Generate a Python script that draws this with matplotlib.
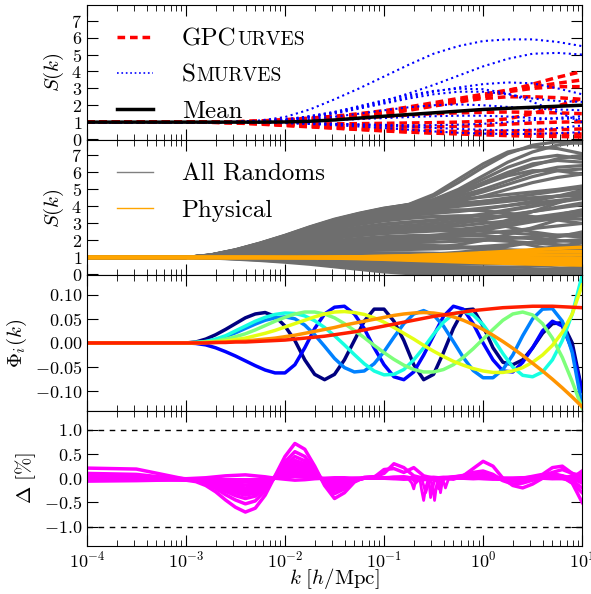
"""Four stacked panels: S(k) curves, random/physical draws, basis functions, residuals."""
import matplotlib

matplotlib.use("Agg")
import matplotlib.pyplot as plt  # noqa: E402
import numpy as np  # noqa: E402

plt.rcParams["font.family"] = "serif"
plt.rcParams["font.serif"] = ["cmr10"]
plt.rcParams["mathtext.fontset"] = "cm"
plt.rcParams["axes.formatter.use_mathtext"] = True

# ---------------------------------------------------------------- data
# log10(k) nodes used by the two S(k) panels
LOGK_A = [-4.0, -3.0, -2.75, -2.5, -2.25, -2.0, -1.75, -1.5, -1.25, -1.0,
          -0.75, -0.5, -0.25, 0.0, 0.25, 0.5, 0.75, 1.0]

GP_CURVES = [
    [1, 1, 1.0, 1.01, 1.04, 1.1, 1.18, 1.28, 1.4, 1.55, 1.75, 1.97, 2.2, 2.5, 2.85, 3.25, 3.65, 4.0],
    [1, 1, 1.0, 1.02, 1.07, 1.15, 1.24, 1.35, 1.5, 1.68, 1.9, 2.15, 2.4, 2.65, 2.9, 3.1, 3.3, 3.5],
    [1, 1, 1.0, 1.02, 1.06, 1.12, 1.2, 1.3, 1.42, 1.6, 1.8, 2.05, 2.3, 2.55, 2.8, 3.0, 3.1, 3.1],
    [1, 1, 1.0, 1.01, 1.04, 1.09, 1.15, 1.22, 1.32, 1.48, 1.7, 1.95, 2.2, 2.4, 2.5, 2.5, 2.45, 2.35],
    [1, 1, 1.0, 1.02, 1.05, 1.1, 1.14, 1.18, 1.24, 1.33, 1.42, 1.5, 1.55, 1.58, 1.6, 1.58, 1.55, 1.5],
    [1, 1, 1.0, 0.98, 0.95, 0.92, 0.9, 0.9, 0.91, 0.93, 0.95, 0.97, 1.0, 1.05, 1.2, 1.5, 1.95, 2.4],
    [1, 1, 1.0, 0.98, 0.95, 0.9, 0.85, 0.8, 0.77, 0.74, 0.72, 0.72, 0.75, 0.8, 0.88, 0.95, 1.0, 1.02],
    [1, 1, 1.0, 0.97, 0.92, 0.85, 0.78, 0.71, 0.65, 0.59, 0.53, 0.48, 0.45, 0.45, 0.47, 0.5, 0.55, 0.6],
    [1, 1, 0.99, 0.96, 0.9, 0.82, 0.74, 0.66, 0.58, 0.5, 0.42, 0.36, 0.33, 0.32, 0.31, 0.3, 0.3, 0.3],
    [1, 1, 0.99, 0.95, 0.88, 0.8, 0.72, 0.64, 0.56, 0.48, 0.41, 0.35, 0.3, 0.25, 0.2, 0.17, 0.15, 0.12],
]

SMURVES = [
    [1, 1, 1.0, 1.02, 1.1, 1.3, 1.75, 2.35, 3.0, 3.7, 4.4, 5.05, 5.5, 5.8, 5.9, 5.9, 5.75, 5.5],
    [1, 1, 1.0, 1.01, 1.05, 1.15, 1.35, 1.6, 1.9, 2.25, 2.7, 3.2, 3.75, 4.3, 4.75, 5.05, 5.1, 5.0],
    [1, 1, 1.0, 1.01, 1.04, 1.12, 1.3, 1.55, 1.85, 2.15, 2.5, 2.8, 3.05, 3.25, 3.35, 3.3, 3.0, 2.65],
    [1, 1, 1.0, 1.01, 1.05, 1.15, 1.35, 1.6, 1.95, 2.3, 2.6, 2.85, 2.98, 2.95, 2.7, 2.2, 1.6, 1.0],
    [1, 1, 1.0, 1.01, 1.04, 1.12, 1.28, 1.5, 1.8, 2.1, 2.4, 2.65, 2.8, 2.8, 2.65, 2.4, 2.25, 2.2],
    [1, 1, 1.0, 1.01, 1.03, 1.08, 1.18, 1.32, 1.5, 1.7, 1.88, 2.0, 2.05, 2.0, 1.9, 1.8, 1.75, 1.7],
    [1, 1, 1.0, 1.0, 1.01, 1.03, 1.07, 1.12, 1.18, 1.24, 1.3, 1.35, 1.38, 1.38, 1.33, 1.25, 1.2, 1.2],
    [1, 1, 1.0, 0.99, 0.98, 0.96, 0.93, 0.89, 0.84, 0.78, 0.72, 0.66, 0.6, 0.55, 0.52, 0.55, 0.65, 0.8],
    [1, 1, 1.0, 0.99, 0.97, 0.94, 0.89, 0.82, 0.74, 0.65, 0.55, 0.45, 0.37, 0.32, 0.3, 0.3, 0.35, 0.4],
    [1, 1, 1.0, 0.99, 0.98, 0.96, 0.93, 0.9, 0.87, 0.84, 0.82, 0.82, 0.85, 0.9, 1.0, 1.12, 1.25, 1.35],
]

MEAN = [1, 1, 1.0, 1.0, 1.0, 1.01, 1.05, 1.13, 1.24, 1.35, 1.45, 1.55, 1.65, 1.75, 1.82, 1.88, 1.94, 2.0]

ALL_RANDOMS = [
    [1, 1, 1.15, 1.45, 1.85, 2.3, 2.8, 3.25, 3.6, 3.9, 4.1, 4.25, 4.4, 4.55, 4.7, 4.85, 5.0, 5.2],
    [1, 1, 1.14, 1.42, 1.8, 2.22, 2.7, 3.12, 3.47, 3.75, 3.95, 4.1, 4.2, 4.3, 4.4, 4.5, 4.6, 4.7],
    [1, 1, 1.13, 1.4, 1.75, 2.14, 2.58, 2.97, 3.27, 3.53, 3.7, 3.85, 4.0, 4.15, 4.3, 4.45, 4.6, 4.8],
    [1, 1, 1.12, 1.37, 1.7, 2.06, 2.47, 2.83, 3.1, 3.34, 3.5, 3.6, 3.7, 3.85, 4.05, 4.3, 4.6, 4.95],
    [1, 1, 1.11, 1.34, 1.64, 1.98, 2.36, 2.69, 2.94, 3.15, 3.29, 3.4, 3.45, 3.45, 3.4, 3.35, 3.3, 3.25],
    [1, 1, 1.1, 1.31, 1.59, 1.9, 2.25, 2.55, 2.78, 2.97, 3.09, 3.2, 3.35, 3.55, 3.8, 4.05, 4.3, 4.5],
    [1, 1, 1.1, 1.29, 1.54, 1.83, 2.14, 2.41, 2.61, 2.78, 2.89, 3.0, 3.15, 3.3, 3.5, 3.7, 3.9, 4.1],
    [1, 1, 1.09, 1.26, 1.49, 1.75, 2.03, 2.27, 2.45, 2.59, 2.68, 2.7, 2.65, 2.55, 2.45, 2.35, 2.3, 2.3],
    [1, 1, 1.08, 1.23, 1.44, 1.67, 1.92, 2.13, 2.28, 2.4, 2.48, 2.55, 2.65, 2.8, 3.0, 3.2, 3.4, 3.55],
    [1, 1, 1.07, 1.21, 1.39, 1.59, 1.81, 1.99, 2.12, 2.22, 2.28, 2.3, 2.3, 2.25, 2.2, 2.1, 2.0, 1.9],
    [1, 1, 1.06, 1.18, 1.34, 1.51, 1.7, 1.85, 1.95, 2.03, 2.08, 2.15, 2.25, 2.4, 2.55, 2.7, 2.85, 3.0],
    [1, 1, 1.05, 1.15, 1.28, 1.43, 1.59, 1.71, 1.79, 1.84, 1.87, 1.9, 1.95, 2.0, 2.1, 2.2, 2.3, 2.4],
    [1, 1, 1.04, 1.12, 1.23, 1.35, 1.48, 1.57, 1.62, 1.65, 1.67, 1.65, 1.6, 1.5, 1.4, 1.3, 1.2, 1.1],
    [1, 1, 1.03, 1.09, 1.18, 1.27, 1.37, 1.43, 1.46, 1.47, 1.47, 1.5, 1.55, 1.65, 1.75, 1.85, 1.95, 2.05],
    [1, 1, 1.02, 1.07, 1.13, 1.19, 1.26, 1.29, 1.29, 1.28, 1.27, 1.25, 1.2, 1.15, 1.1, 1.05, 1.0, 0.95],
    [1, 1, 1.01, 1.04, 1.08, 1.12, 1.15, 1.15, 1.13, 1.09, 1.06, 1.05, 1.08, 1.12, 1.2, 1.3, 1.4, 1.5],
    [1, 1, 1.0, 1.01, 1.03, 1.04, 1.04, 1.01, 0.96, 0.9, 0.86, 0.85, 0.8, 0.75, 0.7, 0.65, 0.6, 0.55],
    [1, 1, 0.99, 0.98, 0.97, 0.96, 0.93, 0.87, 0.79, 0.71, 0.66, 0.62, 0.6, 0.6, 0.62, 0.66, 0.7, 0.75],
    [1, 1, 0.99, 0.96, 0.92, 0.88, 0.82, 0.73, 0.63, 0.53, 0.46, 0.4, 0.35, 0.3, 0.28, 0.25, 0.25, 0.25],
    [1, 1, 0.98, 0.93, 0.87, 0.8, 0.71, 0.59, 0.46, 0.34, 0.25, 0.2, 0.18, 0.2, 0.25, 0.3, 0.35, 0.4],
    [1, 1, 0.97, 0.9, 0.82, 0.72, 0.6, 0.45, 0.3, 0.15, 0.05, 0.0, -0.05, -0.1, -0.1, -0.1, -0.1, -0.1],
    [1, 1, 1.05, 1.16, 1.3, 1.47, 1.64, 1.78, 1.87, 1.93, 1.97, 2.05, 2.3, 2.7, 3.2, 3.7, 4.2, 4.6],
    [1, 1, 1.08, 1.24, 1.45, 1.7, 1.96, 2.18, 2.35, 2.5, 2.6, 2.6, 2.5, 2.3, 2.0, 1.7, 1.4, 1.2],
    [1, 1, 1.11, 1.35, 1.65, 2.0, 2.38, 2.72, 2.98, 3.2, 3.35, 3.4, 3.3, 3.1, 2.8, 2.5, 2.3, 2.2],
    [1, 1, 1.03, 1.1, 1.2, 1.31, 1.42, 1.5, 1.54, 1.56, 1.57, 1.6, 1.75, 2.0, 2.35, 2.75, 3.2, 3.7],
    [1, 1, 1.12, 1.38, 1.72, 2.1, 2.52, 2.9, 3.2, 3.45, 3.62, 3.75, 3.8, 3.75, 3.6, 3.4, 3.2, 3.0],
    [1, 1, 1.0, 1.02, 1.04, 1.06, 1.07, 1.06, 1.03, 0.99, 0.96, 0.95, 1.0, 1.1, 1.25, 1.45, 1.65, 1.85],
    [1, 1, 0.99, 0.97, 0.95, 0.93, 0.88, 0.8, 0.71, 0.62, 0.56, 0.55, 0.6, 0.7, 0.85, 1.0, 1.15, 1.3],
    [1, 1, 1.09, 1.27, 1.5, 1.77, 2.05, 2.3, 2.5, 2.65, 2.75, 2.85, 3.0, 3.2, 3.45, 3.7, 3.95, 4.2],
    [1, 1, 1.13, 1.4, 1.76, 2.16, 2.6, 3.0, 3.3, 3.56, 3.75, 3.9, 4.05, 4.2, 4.35, 4.5, 4.6, 4.65],
    [1, 1, 1.06, 1.19, 1.36, 1.55, 1.75, 1.92, 2.04, 2.13, 2.19, 2.25, 2.4, 2.6, 2.85, 3.1, 3.3, 3.45],
    [1, 1, 1.02, 1.06, 1.11, 1.17, 1.22, 1.24, 1.23, 1.2, 1.15, 1.1, 1.0, 0.9, 0.8, 0.7, 0.6, 0.5],
    [1, 1, 0.98, 0.94, 0.89, 0.83, 0.76, 0.67, 0.57, 0.47, 0.38, 0.3, 0.25, 0.22, 0.2, 0.2, 0.2, 0.2],
    [1, 1, 1.0, 0.99, 0.98, 0.97, 0.95, 0.91, 0.85, 0.79, 0.73, 0.7, 0.7, 0.75, 0.85, 1.0, 1.2, 1.4],
    [1, 1, 1.07, 1.2, 1.37, 1.56, 1.76, 1.93, 2.05, 2.14, 2.2, 2.3, 2.45, 2.65, 2.9, 3.2, 3.5, 3.8],
    [1, 1, 1.1, 1.3, 1.57, 1.88, 2.22, 2.52, 2.75, 2.93, 3.05, 3.15, 3.3, 3.5, 3.75, 4.0, 4.25, 4.45],
    [1, 1, 1.04, 1.13, 1.25, 1.38, 1.51, 1.61, 1.67, 1.7, 1.72, 1.7, 1.65, 1.55, 1.45, 1.4, 1.4, 1.45],
    [1, 1, 0.99, 0.97, 0.93, 0.89, 0.84, 0.77, 0.69, 0.6, 0.52, 0.46, 0.42, 0.4, 0.42, 0.48, 0.55, 0.65],
    [1, 1, 1.01, 1.03, 1.06, 1.09, 1.11, 1.11, 1.09, 1.06, 1.03, 1.0, 0.95, 0.9, 0.85, 0.85, 0.9, 0.95],
    [1, 1, 1.09, 1.25, 1.47, 1.72, 1.99, 2.23, 2.41, 2.56, 2.66, 2.75, 2.85, 3.0, 3.15, 3.35, 3.55, 3.75],
    [1, 1, 1.12, 1.37, 1.69, 2.05, 2.45, 2.81, 3.08, 3.31, 3.47, 3.6, 3.75, 3.9, 4.05, 4.2, 4.35, 4.5],
    [1, 1, 1.05, 1.16, 1.31, 1.48, 1.66, 1.81, 1.92, 2.0, 2.05, 2.1, 2.1, 2.05, 1.95, 1.85, 1.75, 1.65],
    [1, 1, 1.02, 1.05, 1.09, 1.14, 1.19, 1.21, 1.2, 1.18, 1.17, 1.2, 1.3, 1.45, 1.65, 1.9, 2.2, 2.5],
    [1, 1, 0.98, 0.92, 0.85, 0.77, 0.67, 0.55, 0.42, 0.3, 0.2, 0.12, 0.08, 0.05, 0.05, 0.05, 0.05, 0.05],
    [1, 1, 1.13, 1.41, 1.77, 2.18, 2.62, 3.03, 3.35, 3.62, 3.8, 3.95, 4.1, 4.3, 4.5, 4.7, 4.9, 5.1],
    [1, 1, 1.14, 1.43, 1.82, 2.26, 2.75, 3.2, 3.55, 3.85, 4.1, 4.6, 5.4, 6.3, 7.1, 7.6, 7.8, 7.7],
    [1, 1, 1.13, 1.41, 1.78, 2.2, 2.68, 3.12, 3.48, 3.8, 4.05, 4.4, 5.0, 5.8, 6.6, 7.2, 7.6, 7.8],
    [1, 1, 1.15, 1.45, 1.84, 2.29, 2.78, 3.22, 3.58, 3.88, 4.12, 4.7, 5.6, 6.5, 7.2, 7.5, 7.4, 7.1],
    [1, 1, 1.12, 1.39, 1.74, 2.15, 2.6, 3.03, 3.38, 3.7, 3.95, 4.25, 4.7, 5.3, 5.9, 6.4, 6.8, 7.0],
    [1, 1, 1.14, 1.44, 1.83, 2.27, 2.76, 3.2, 3.56, 3.86, 4.08, 4.35, 4.8, 5.4, 6.0, 6.5, 6.7, 6.6],
    [1, 1, 1.13, 1.42, 1.8, 2.23, 2.72, 3.16, 3.52, 3.83, 4.05, 4.3, 4.6, 5.0, 5.5, 6.0, 6.3, 6.4],
    [1, 1, 1.12, 1.38, 1.72, 2.12, 2.56, 2.98, 3.33, 3.65, 3.9, 4.15, 4.45, 4.85, 5.3, 5.75, 6.1, 6.2],
    [1, 1, 1.14, 1.43, 1.81, 2.25, 2.74, 3.18, 3.54, 3.84, 4.06, 4.4, 4.9, 5.6, 6.3, 6.8, 7.0, 6.8],
    [1, 1, 1.11, 1.36, 1.69, 2.08, 2.5, 2.92, 3.27, 3.6, 3.85, 4.05, 4.3, 4.6, 5.0, 5.4, 5.7, 5.9],
    [1, 1, 1.13, 1.41, 1.79, 2.21, 2.69, 3.13, 3.49, 3.81, 4.03, 4.3, 4.75, 5.3, 5.8, 6.1, 6.1, 5.9],
]

PHYSICAL = [
    [1, 1, 1.0, 1.0, 1.0, 1.0, 1.01, 1.02, 1.04, 1.06, 1.1, 1.15, 1.2, 1.28, 1.36, 1.45, 1.53, 1.6],
    [1, 1, 1.0, 1.0, 1.0, 1.0, 1.01, 1.02, 1.04, 1.07, 1.1, 1.14, 1.18, 1.22, 1.26, 1.3, 1.33, 1.35],
    [1, 1, 1.0, 1.0, 1.0, 1.0, 1.0, 1.01, 1.02, 1.03, 1.05, 1.07, 1.09, 1.1, 1.12, 1.13, 1.14, 1.15],
    [1, 1, 1.0, 1.0, 1.0, 1.0, 1.0, 1.0, 0.99, 0.99, 0.98, 0.98, 0.97, 0.97, 0.96, 0.96, 0.95, 0.95],
    [1, 1, 1.0, 1.0, 1.0, 1.0, 0.99, 0.98, 0.97, 0.95, 0.93, 0.91, 0.89, 0.87, 0.85, 0.83, 0.81, 0.8],
    [1, 1, 1.0, 1.0, 1.0, 0.99, 0.98, 0.97, 0.95, 0.92, 0.88, 0.84, 0.8, 0.76, 0.73, 0.7, 0.67, 0.65],
    [1, 1, 1.0, 1.0, 1.0, 0.99, 0.98, 0.96, 0.93, 0.89, 0.84, 0.79, 0.74, 0.69, 0.65, 0.61, 0.58, 0.55],
]

# log10(k) nodes used by the basis-function and residual panels
LOGK_B = [-4.0, -3.5,
          -3.0, -2.9, -2.8, -2.7, -2.6, -2.5, -2.4, -2.3, -2.2, -2.1,
          -2.0, -1.9, -1.8, -1.7, -1.6, -1.5, -1.4, -1.3, -1.2, -1.1,
          -1.0, -0.9, -0.8, -0.7, -0.6, -0.5, -0.4, -0.3, -0.2, -0.1,
          0.0, 0.1, 0.2, 0.3, 0.4, 0.5, 0.6, 0.7, 0.8, 0.9, 1.0]

# basis functions Phi_i, highest order first (drawn navy -> red)
PHI = [
    [0, 0,
     0, 0.002, 0.008, 0.017, 0.028, 0.04, 0.052, 0.06, 0.063, 0.055,
     0.035, 0.005, -0.035, -0.065, -0.076, -0.065, -0.035, 0.005, 0.045, 0.07,
     0.07, 0.045, 0.005, -0.045, -0.076, -0.065, -0.02, 0.03, 0.068, 0.07,
     0.035, -0.01, -0.04, -0.045, -0.035, -0.01, 0.02, 0.04, 0.042, 0.0, -0.1],
    [0, 0,
     0, -0.001, -0.004, -0.01, -0.018, -0.027, -0.037, -0.047, -0.056, -0.062,
     -0.062, -0.045, -0.01, 0.03, 0.06, 0.074, 0.076, 0.06, 0.03, -0.01,
     -0.045, -0.07, -0.076, -0.06, -0.025, 0.015, 0.055, 0.076, 0.07, 0.04,
     0.0, -0.035, -0.058, -0.06, -0.04, -0.01, 0.025, 0.045, 0.035, -0.015, -0.1],
    [0, 0,
     0, 0.001, 0.003, 0.007, 0.013, 0.021, 0.03, 0.039, 0.047, 0.052,
     0.054, 0.05, 0.037, 0.017, -0.007, -0.032, -0.051, -0.06, -0.058, -0.043,
     -0.018, 0.012, 0.04, 0.06, 0.067, 0.058, 0.035, 0.003, -0.03, -0.057,
     -0.072, -0.072, -0.055, -0.025, 0.015, 0.05, 0.07, 0.071, 0.045, -0.02, -0.13],
    [0, 0,
     0, 0.001, 0.003, 0.008, 0.015, 0.025, 0.035, 0.045, 0.053, 0.059,
     0.062, 0.061, 0.056, 0.046, 0.032, 0.015, -0.004, -0.024, -0.043, -0.058,
     -0.066, -0.065, -0.055, -0.035, -0.01, 0.018, 0.043, 0.06, 0.065, 0.058,
     0.038, 0.01, -0.022, -0.05, -0.067, -0.07, -0.06, -0.035, 0.005, 0.06, 0.14],
    [0, 0,
     0, 0.001, 0.002, 0.004, 0.008, 0.013, 0.019, 0.027, 0.036, 0.045,
     0.053, 0.06, 0.064, 0.064, 0.06, 0.052, 0.04, 0.026, 0.011, -0.005,
     -0.02, -0.034, -0.046, -0.055, -0.06, -0.06, -0.055, -0.045, -0.03, -0.012,
     0.008, 0.028, 0.047, 0.06, 0.064, 0.058, 0.04, 0.01, -0.03, -0.08, -0.135],
    [0, 0,
     0, 0, 0.001, 0.002, 0.004, 0.007, 0.01, 0.015, 0.02, 0.026,
     0.033, 0.04, 0.047, 0.054, 0.06, 0.064, 0.065, 0.063, 0.059, 0.052,
     0.043, 0.032, 0.02, 0.008, -0.005, -0.017, -0.028, -0.038, -0.046, -0.053,
     -0.058, -0.061, -0.061, -0.058, -0.051, -0.04, -0.025, -0.005, 0.022, 0.06, 0.12],
    [0, 0,
     0, 0, 0.001, 0.001, 0.002, 0.003, 0.004, 0.006, 0.008, 0.01,
     0.013, 0.016, 0.02, 0.024, 0.028, 0.032, 0.037, 0.041, 0.045, 0.049,
     0.053, 0.057, 0.06, 0.062, 0.063, 0.062, 0.059, 0.054, 0.047, 0.038,
     0.028, 0.016, 0.003, -0.011, -0.026, -0.042, -0.058, -0.075, -0.093, -0.112, -0.132],
    [0, 0,
     0, 0, 0, 0.001, 0.001, 0.002, 0.002, 0.003, 0.004, 0.005,
     0.006, 0.008, 0.01, 0.012, 0.014, 0.017, 0.02, 0.023, 0.027, 0.031,
     0.035, 0.039, 0.043, 0.047, 0.051, 0.055, 0.058, 0.061, 0.064, 0.067,
     0.069, 0.071, 0.073, 0.074, 0.075, 0.076, 0.076, 0.076, 0.075, 0.074, 0.073],
]

# residuals in per cent
DELTA = [
    [0.02, 0.01,
     -0.04, -0.07, -0.15, -0.28, -0.45, -0.6, -0.7, -0.62, -0.35, 0.05,
     0.45, 0.72, 0.6, 0.25, -0.15, -0.42, -0.3, -0.08, 0.02, 0.03,
     0.0, 0.02, 0.03, 0.0, -0.03, -0.02, 0.01, 0.03, 0.05, 0.08,
     0.1, 0.05, -0.03, -0.06, -0.04, 0.0, 0.03, 0.05, 0.02, -0.1, -0.3],
    [0.21, 0.19,
     -0.02, -0.05, -0.11, -0.21, -0.34, -0.45, -0.53, -0.47, -0.26, 0.04,
     0.34, 0.55, 0.45, 0.19, -0.11, -0.32, -0.22, -0.06, 0.01, 0.02,
     0.01, 0.0, -0.02, -0.01, 0.01, 0.02, 0.0, -0.02, 0.05, 0.2,
     0.35, 0.25, 0.0, -0.15, -0.2, -0.12, 0.0, 0.1, 0.05, -0.1, -0.5],
    [0.1, 0.08,
     -0.03, -0.05, -0.09, -0.17, -0.27, -0.36, -0.42, -0.37, -0.21, 0.03,
     0.27, 0.45, 0.36, 0.15, -0.09, -0.25, -0.18, -0.05, 0.01, 0.03,
     0.1, 0.3, 0.22, 0.05, 0.0, -0.02, 0.0, 0.02, 0.03, 0.04,
     0.03, 0.0, -0.03, -0.05, -0.04, 0.0, 0.05, 0.12, 0.18, 0.1, -0.05],
    [0.05, 0.04,
     -0.03, -0.04, -0.08, -0.14, -0.23, -0.3, -0.35, -0.31, -0.18, 0.02,
     0.23, 0.37, 0.3, 0.13, -0.08, -0.21, -0.15, -0.04, 0.0, 0.02,
     0.18, 0.2, 0.12, 0.22, 0.05, 0.0, 0.02, 0.0, 0.02, 0.04,
     0.06, 0.03, -0.02, -0.03, 0.0, 0.04, 0.08, 0.22, 0.25, 0.1, 0.05],
    [0.03, 0.02,
     -0.03, -0.04, -0.07, -0.12, -0.19, -0.25, -0.3, -0.26, -0.15, 0.02,
     0.19, 0.31, 0.25, 0.11, -0.07, -0.18, -0.13, -0.03, 0.0, 0.01,
     0.0, 0.01, 0.02, 0.0, -0.02, 0.0, 0.01, 0.02, 0.06, 0.12,
     0.15, 0.08, -0.05, -0.12, -0.1, -0.04, 0.0, 0.02, 0.0, -0.05, -0.2],
    [0.0, 0.0,
     -0.03, -0.04, -0.06, -0.1, -0.16, -0.21, -0.25, -0.22, -0.12, 0.02,
     0.16, 0.26, 0.21, 0.09, -0.05, -0.15, -0.11, -0.03, 0.0, 0.01,
     0.0, 0.0, -0.01, 0.0, 0.01, 0.0, -0.01, 0.0, 0.02, 0.04,
     0.05, 0.02, -0.02, -0.03, -0.02, 0.0, 0.03, 0.06, 0.05, 0.0, -0.1],
    [-0.02, -0.02,
     -0.03, -0.04, -0.05, -0.08, -0.13, -0.17, -0.2, -0.17, -0.1, 0.01,
     0.13, 0.2, 0.17, 0.07, -0.04, -0.12, -0.08, -0.02, 0.0, 0.0,
     0.01, 0.02, 0.01, 0.0, -0.01, 0.0, 0.01, 0.0, 0.0, 0.02,
     0.03, 0.0, -0.03, -0.02, 0.0, 0.02, 0.04, 0.03, 0.0, 0.05, 0.1],
    [-0.04, -0.04,
     -0.03, -0.03, -0.04, -0.06, -0.09, -0.12, -0.14, -0.12, -0.07, 0.01,
     0.09, 0.14, 0.12, 0.05, -0.03, -0.08, -0.06, -0.02, 0.0, 0.0,
     0.0, -0.01, 0.0, 0.01, 0.0, -0.01, 0.0, 0.01, 0.0, -0.01,
     0.0, 0.01, 0.0, -0.01, 0.0, 0.01, 0.0, -0.01, 0.0, 0.02, 0.0],
    [-0.06, -0.05,
     -0.03, -0.03, -0.03, -0.04, -0.05, -0.07, -0.08, -0.07, -0.04, 0.0,
     0.05, 0.09, 0.07, 0.03, -0.02, -0.05, -0.04, -0.01, 0.0, 0.0,
     0.0, 0.0, 0.01, 0.0, -0.01, 0.0, 0.0, 0.01, 0.02, 0.01,
     -0.01, -0.02, -0.01, 0.0, 0.01, 0.02, 0.01, 0.0, -0.01, -0.03, -0.05],
    [0.0, -0.01,
     -0.02, -0.02, -0.02, -0.02, -0.03, -0.03, -0.03, -0.03, -0.02, 0.0,
     0.02, 0.04, 0.03, 0.01, -0.01, -0.02, -0.02, 0.0, 0.0, 0.0,
     0.0, 0.0, 0.0, 0.0, 0.0, 0.0, 0.0, 0.0, 0.0, 0.0,
     0.0, 0.0, 0.0, 0.0, 0.0, 0.0, 0.0, 0.0, 0.0, 0.0, 0.0],
    [0.06, 0.05,
     -0.01, 0.0, 0.01, 0.03, 0.05, 0.06, 0.07, 0.05, 0.03, 0.0,
     -0.02, -0.04, -0.03, -0.01, 0.0, 0.01, 0.01, 0.0, 0.0, 0.0,
     0.0, 0.0, 0.0, 0.0, 0.0, 0.0, 0.0, 0.0, 0.0, 0.0,
     0.0, 0.0, -0.02, -0.03, -0.02, 0.0, 0.02, 0.03, 0.02, 0.0, 0.15],
]

# short, finely sampled stretches of two residual curves (0.16 < k < 0.5)
SPIKE_LOGK = [-0.80, -0.76, -0.72, -0.70, -0.68, -0.64, -0.62, -0.60, -0.58, -0.55,
              -0.53, -0.51, -0.49, -0.47, -0.45, -0.43, -0.41, -0.38, -0.35, -0.30]
SPIKES = [
    [0.0, 0.0, -0.1, -0.22, -0.05, 0.0, -0.25, -0.46, -0.2, 0.0,
     -0.4, -0.1, -0.46, -0.15, 0.0, -0.3, -0.05, 0.0, 0.0, 0.0],
    [0.0, 0.02, 0.0, -0.05, -0.1, -0.02, 0.0, -0.15, -0.3, -0.1,
     0.0, -0.2, -0.05, 0.0, -0.22, -0.1, 0.0, -0.2, -0.02, 0.0],
]

# ---------------------------------------------------------------- plot
ka = 10.0 ** np.array(LOGK_A)
kb = 10.0 ** np.array(LOGK_B)
ks = 10.0 ** np.array(SPIKE_LOGK)

fig, axes = plt.subplots(4, 1, sharex=True, figsize=(5.91, 5.94), dpi=100)
fig.subplots_adjust(left=0.147, right=0.985, top=0.992, bottom=0.081, hspace=0)
ax1, ax2, ax3, ax4 = axes

for i, y in enumerate(GP_CURVES):
    ax1.plot(ka, y, color="red", ls="--", dashes=(2.2, 1.4), lw=2.5,
             label="GPC" if i == 0 else None)
for i, y in enumerate(SMURVES):
    ax1.plot(ka, y, color="blue", ls=":", lw=1.5, label="S" if i == 0 else None)
ax1.plot(ka, MEAN, color="black", lw=2.5, label="Mean")
ax1.set_ylim(-0.06, 7.95)
ax1.set_yticks(range(8))
ax1.set_ylabel(r"$S(k)$", fontsize=15)

for i, y in enumerate(ALL_RANDOMS):
    ax2.plot(ka, y, color="#6e6e6e", lw=2.3, label="All Randoms" if i == 0 else None)
for i, y in enumerate(PHYSICAL):
    ax2.plot(ka, y, color="orange", lw=2.5, label="Physical" if i == 0 else None)
ax2.set_ylim(-0.05, 7.9)
ax2.set_yticks(range(8))
ax2.set_ylabel(r"$S(k)$", fontsize=15)

for i, y in enumerate(PHI):
    ax3.plot(kb, y, color=plt.cm.jet(i / 8), lw=2.5)
ax3.set_ylim(-0.14, 0.14)
ax3.set_yticks([-0.10, -0.05, 0.0, 0.05, 0.10])
ax3.set_ylabel(r"$\Phi_i(k)$", fontsize=15)

for y in DELTA:
    ax4.plot(kb, y, color="magenta", lw=2.5)
for y in SPIKES:
    ax4.plot(ks, y, color="magenta", lw=2.0)
for lvl in (1.0, -1.0):
    ax4.axhline(lvl, color="black", ls="--", lw=1.0, dashes=(4, 4))
ax4.set_ylim(-1.4, 1.4)
ax4.set_yticks([-1.0, -0.5, 0.0, 0.5, 1.0])
ax4.set_ylabel(r"$\Delta\ [\%]$", fontsize=15)
ax4.set_xlabel(r"$k\ [h/\mathrm{Mpc}]$", fontsize=15)
ax4.xaxis.set_label_coords(0.5, -0.15)

ax4.set_xscale("log")
ax4.set_xlim(1e-4, 1e1)

for ax in axes:
    ax.tick_params(which="both", direction="in", top=True, right=True, labelsize=13)
    ax.tick_params(which="major", length=8)
    ax.tick_params(which="minor", length=4)
    ax.tick_params(axis="x", pad=3)
    ax.yaxis.set_major_formatter(matplotlib.ticker.FormatStrFormatter(
        "$%.2f$" if ax is ax3 else ("$%.1f$" if ax is ax4 else "$%d$")))

leg_kw = dict(loc="upper left", frameon=False, fontsize=18, borderpad=0,
              borderaxespad=0, handlelength=1.45, handletextpad=1.15, labelspacing=0.55)
leg1 = ax1.legend(bbox_to_anchor=(0.06, 0.83), **leg_kw)
leg2 = ax2.legend(bbox_to_anchor=(0.06, 0.83), **leg_kw)
for ln in leg2.get_lines():
    ln.set_linewidth(1.0)
leg2.get_lines()[0].set_color("gray")
leg1.get_lines()[1].set_linewidth(1.2)

# small-caps tails for the first two legend labels
for txt, tail in zip(leg1.get_texts()[:2], ["URVES", "MURVES"]):
    ann = ax1.annotate(tail, xy=(1, 0), xycoords=txt, xytext=(0.6, 0.8),
                       textcoords="offset points", fontsize=14, ha="left", va="bottom")
    ann.set_zorder(10)

fig.canvas.draw()
fig.savefig("out.png", dpi=100)
